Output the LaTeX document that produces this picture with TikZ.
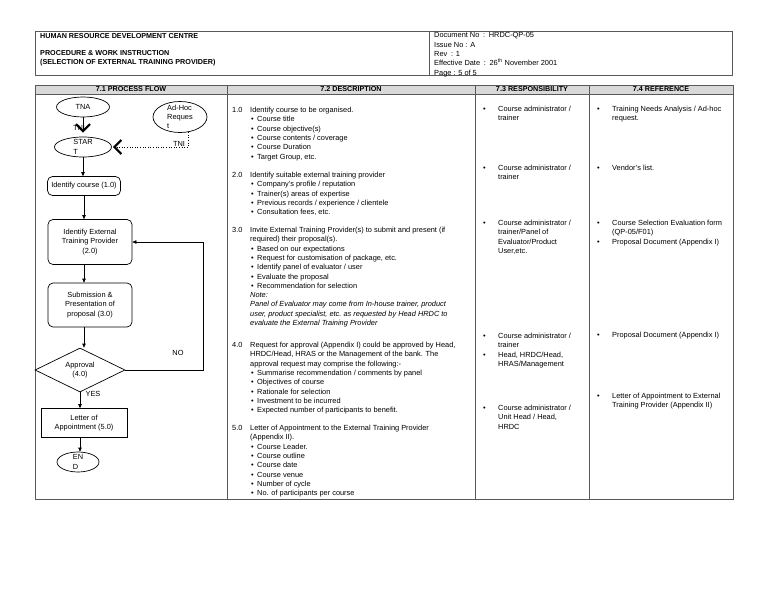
\documentclass[tikz,border=0pt]{standalone}
\usepackage{fontspec}
\setmainfont{Liberation Sans}
\usetikzlibrary{arrows.meta,shapes.geometric,positioning}

\newcommand\secno[1]{\makebox[18pt][l]{#1}}
\newcommand\bul{\hspace*{19pt}\makebox[6pt][l]{\textbullet}}
\newcommand\ind{\hspace*{18pt}}
\newcommand\rb{\makebox[15pt][l]{\textbullet}}
\newcommand\rind{\hspace*{15pt}}

\begin{document}
\begin{tikzpicture}[x=1pt,y=-1pt,
    font=\fontsize{7.4}{9.3}\selectfont,
    vtip/.tip={Straight Barb[length=7pt,width=14pt,line width=2.2pt]},
    frame/.style={draw=black!65,line width=0.8pt},
    ell/.style={ellipse,draw,line width=0.7pt,inner xsep=0pt,inner ysep=-2.5pt,align=left},
    stepbox/.style={rectangle,draw,rounded corners=5pt,line width=0.7pt,inner sep=0pt,align=center},
    arr/.style={-{Triangle[length=4pt,width=3.5pt]},line width=0.7pt},
    txt/.style={anchor=north west,inner sep=0pt,align=left},
    lbl/.style={inner sep=0pt},
    hd/.style={inner sep=0pt,font=\fontsize{7.2}{9.3}\selectfont\bfseries}
  ]
  \useasboundingbox (0,0) rectangle (768,594);

  % page header
  \draw[frame] (35,31) rectangle (732,75);
  \draw[frame] (429,31) -- (429,75);
  \node[hd,anchor=west] (hrdc) at (40,36) {HUMAN RESOURCE DEVELOPMENT CENTRE};
  \node[hd,txt] (proc) at (40,50) {PROCEDURE \& WORK INSTRUCTION\\(SELECTION OF EXTERNAL TRAINING PROVIDER)};
  \node[txt] (docinfo) at (434,32.5) {Document No\enspace:\enspace HRDC-QP-05\\Issue No : A\\Rev\enspace: 1\\Effective Date\enspace:\enspace 26\textsuperscript{th} November 2001\\Page : 5 of 5};

  % table
  \fill[black!15] (35,85) rectangle (733,94);
  \draw[frame] (35,85) rectangle (733,499);
  \draw[frame] (35,94) -- (733,94);
  \foreach \x in {227,475,589} \draw[frame] (\x,85) -- (\x,499);
  \node[hd] (hflow) at (131,89.5) {7.1 PROCESS FLOW};
  \node[hd] (hdesc) at (351,89.5) {7.2 DESCRIPTION};
  \node[hd] (hresp) at (532,89.5) {7.3 RESPONSIBILITY};
  \node[hd] (href)  at (661,89.5) {7.4 REFERENCE};

  % process flow
  \node[ell,minimum width=53,minimum height=20] (tna)   at (83,107)  {TNA};
  \node[ell,minimum width=54,minimum height=31] (adhoc) at (180,117) {Ad-Hoc\\Reques\\t};
  \node[ell,minimum width=57,minimum height=20] (start) at (83,147)  {STAR\\T};
  \node[stepbox,minimum width=73,minimum height=19] (c1) at (84,186) {Identify course (1.0)};
  \node[stepbox,minimum width=84,minimum height=45] (c2) at (90,242) {Identify External\\Training Provider\\(2.0)};
  \node[stepbox,minimum width=84,minimum height=44] (c3) at (90,305) {Submission \&\\Presentation of\\proposal (3.0)};
  \node[diamond,draw,line width=0.7pt,inner sep=0pt,aspect=2,minimum width=90,minimum height=44,align=center] (appr) at (80,370) {Approval\\(4.0)};
  \node[rectangle,draw,line width=0.7pt,inner sep=0pt,minimum width=86,minimum height=29,align=center] (c5) at (84,423) {Letter of\\Appointment (5.0)};
  \node[ell,minimum width=42,minimum height=20] (fin) at (78,462) {EN\\D};
  \coordinate (loop) at (203,0);

  \draw[-vtip,line width=0.5pt,shorten >=4pt] (tna) -- (start);
  \node[lbl] (tni1) at (79,128) {TNI};
  \draw[dotted,line width=0.6pt,-vtip,shorten >=1pt] (adhoc.-62) |- (start.east);
  \node[lbl] (tni2) at (179,144) {TNI};
  \draw[arr] (start.south) -- (start.south |- c1.north);
  \draw[arr] (c1.south) -- (c1.south |- c2.north);
  \draw[arr] (c2.south -| c1.south) -- (c1.south |- c3.north);
  \draw[arr] (c3.south -| c1.south) -- (c1.south |- appr.north);
  \draw[arr] (appr.south) -- (appr.south |- c5.north);
  \draw[arr] (c5.south -| appr.south) -- (appr.south |- fin.north);
  \draw[arr] (appr.east) -- (appr.east -| loop) |- (c2.east);
  \node[lbl] (no)  at (178,353) {NO};
  \node[lbl] (yes) at (93,394)  {YES};

  % description
  \node[txt] (d1) at (232,107) {\secno{1.0}Identify course to be organised.\\
    \bul Course title\\ \bul Course objective(s)\\ \bul Course contents / coverage\\
    \bul Course Duration\\ \bul Target Group, etc.};
  \node[txt] (d2) at (232,172) {\secno{2.0}Identify suitable external training provider\\
    \bul Company's profile / reputation\\ \bul Trainer(s) areas of expertise\\
    \bul Previous records / experience / clientele\\ \bul Consultation fees, etc.};
  \node[txt] (d3) at (232,227) {\secno{3.0}Invite External Training Provider(s) to submit and present (if\\
    \ind required) their proposal(s).\\ \bul Based on our expectations\\
    \bul Request for customisation of package, etc.\\ \bul Identify panel of evaluator / user\\
    \bul Evaluate the proposal\\ \bul Recommendation for selection\\
    \ind\textit{Note:}\\
    \ind\textit{Panel of Evaluator may come from In-house trainer, product}\\
    \ind\textit{user, product specialist, etc.\ as requested by Head HRDC to}\\
    \ind\textit{evaluate the External Training Provider}};
  \node[txt] (d4) at (232,342) {\secno{4.0}Request for approval (Appendix I) could be approved by Head,\\
    \ind HRDC/Head, HRAS or the Management of the bank. The\\
    \ind approval request may comprise the following:-\\
    \bul Summarise recommendation / comments by panel\\ \bul Objectives of course\\
    \bul Rationale for selection\\ \bul Investment to be incurred\\
    \bul Expected number of participants to benefit.};
  \node[txt] (d5) at (232,425) {\secno{5.0}Letter of Appointment to the External Training Provider\\
    \ind (Appendix II).\\ \bul Course Leader.\\ \bul Course outline\\ \bul Course date\\
    \bul Course venue\\ \bul Number of cycle\\ \bul No. of participants per course};

  % responsibility
  \node[txt] (r1) at (483,106) {\rb Course administrator /\\ \rind trainer};
  \node[txt] (r2) at (483,165) {\rb Course administrator /\\ \rind trainer};
  \node[txt] (r3) at (483,220) {\rb Course administrator /\\ \rind trainer/Panel of\\ \rind Evaluator/Product\\ \rind User,etc.};
  \node[txt] (r4) at (483,333) {\rb Course administrator /\\ \rind trainer\\ \rb Head, HRDC/Head,\\ \rind HRAS/Management};
  \node[txt] (r5) at (483,405) {\rb Course administrator /\\ \rind Unit Head / Head,\\ \rind HRDC};

  % reference
  \node[txt] (f1) at (597,106) {\rb Training Needs Analysis / Ad-hoc\\ \rind request.};
  \node[txt] (f2) at (597,165) {\rb Vendor's list.};
  \node[txt] (f3) at (597,220) {\rb Course Selection Evaluation form\\ \rind (QP-05/F01)\\ \rb Proposal Document (Appendix I)};
  \node[txt] (f4) at (597,332) {\rb Proposal Document (Appendix I)};
  \node[txt] (f5) at (597,393) {\rb Letter of Appointment to External\\ \rind Training Provider (Appendix II)};
\end{tikzpicture}
\end{document}
